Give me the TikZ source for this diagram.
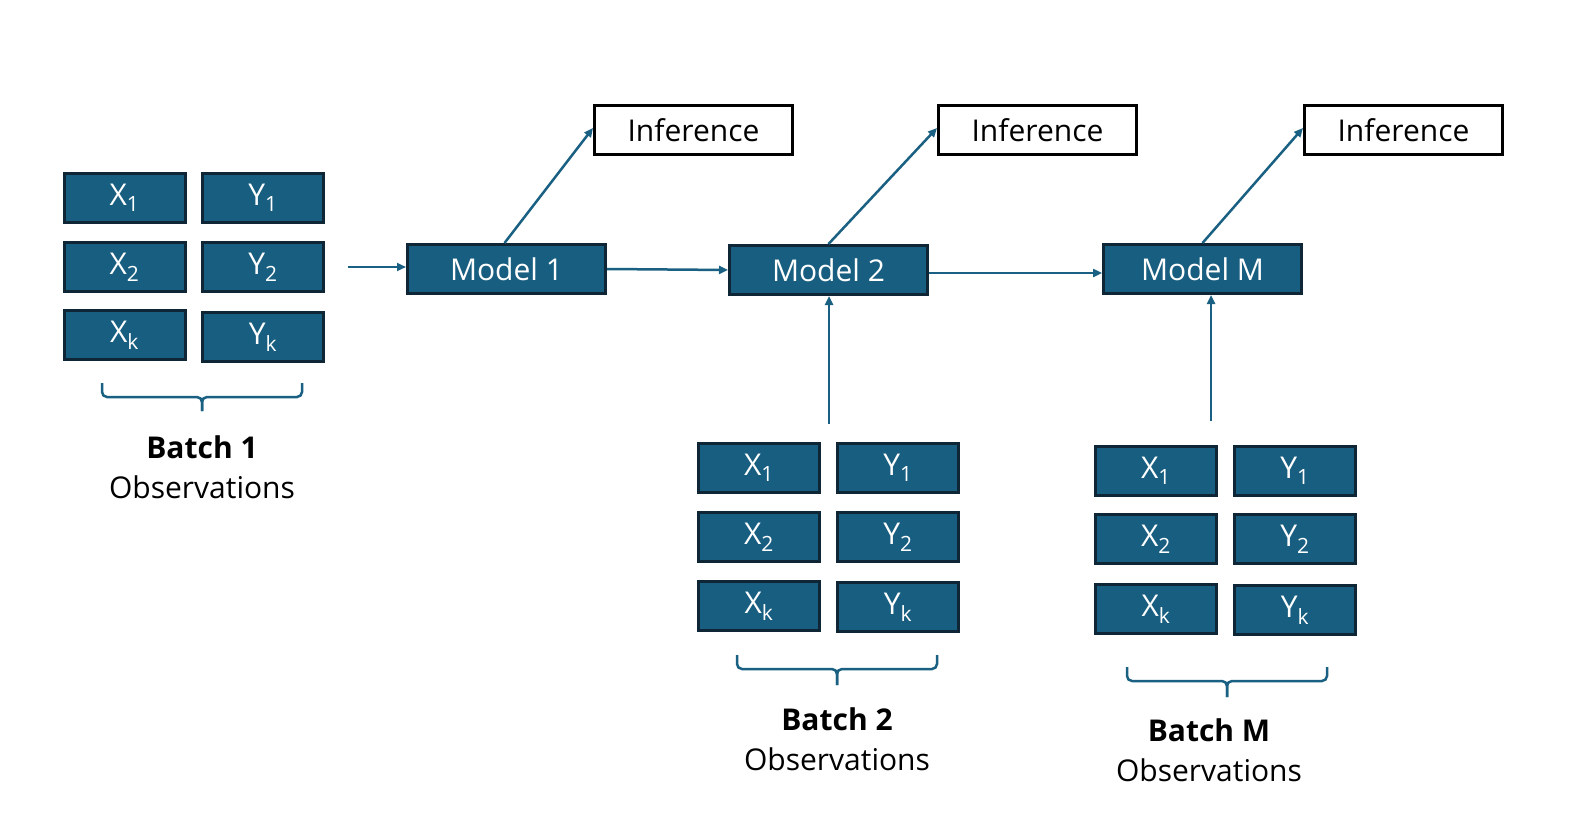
\documentclass[tikz,border=0pt]{standalone}
\usepackage{fontspec}
\setmainfont{Open Sans}
\usetikzlibrary{arrows.meta}
\definecolor{boxfill}{RGB}{24,94,128}
\definecolor{boxedge}{RGB}{14,38,54}
\definecolor{arrowc}{RGB}{26,96,130}
\tikzset{
  cell/.style={draw=boxedge,fill=boxfill,line width=3pt,minimum width=121pt,minimum height=49pt,inner sep=0pt,text=white,font=\fontsize{30}{35}\selectfont},
  modelbox/.style={draw=boxedge,fill=boxfill,line width=3pt,minimum width=198pt,minimum height=49pt,inner sep=0pt,text=white,font=\fontsize{30}{35}\selectfont},
  infbox/.style={draw=black,fill=white,line width=3pt,minimum width=198pt,minimum height=49pt,inner sep=0pt,text=black,font=\fontsize{30}{35}\selectfont},
  conn/.style={draw=arrowc,line width=2.5pt,-{Triangle[length=9pt,width=8pt]}},
  bracec/.style={draw=arrowc,line width=2.5pt,rounded corners=5pt},
  lbl/.style={inner sep=0pt,font=\fontsize{30}{35}\selectfont},
}
\newcommand{\sbx}[1]{\textsubscript{#1}}
\begin{document}
\begin{tikzpicture}[x=1pt,y=-1pt]
\fill[white] (0,0) rectangle (1585,829);
\useasboundingbox (0,0) rectangle (1585,829);
% Batch 1
\node[cell] (ax1) at (124.5,198) {X\sbx{1}};
\node[cell] (ay1) at (263,198) {Y\sbx{1}};
\node[cell] (ax2) at (124.5,267) {X\sbx{2}};
\node[cell] (ay2) at (263,267) {Y\sbx{2}};
\node[cell] (axk) at (124.5,335) {X\sbx{k}};
\node[cell] (ayk) at (263,337) {Y\sbx{k}};
% Batch 2
\node[cell] (bx1) at (759,468) {X\sbx{1}};
\node[cell] (by1) at (898,468) {Y\sbx{1}};
\node[cell] (bx2) at (759,537) {X\sbx{2}};
\node[cell] (by2) at (898,537) {Y\sbx{2}};
\node[cell] (bxk) at (759,606) {X\sbx{k}};
\node[cell] (byk) at (898,607) {Y\sbx{k}};
% Batch M
\node[cell] (cx1) at (1156,471) {X\sbx{1}};
\node[cell] (cy1) at (1295,471) {Y\sbx{1}};
\node[cell] (cx2) at (1156,539) {X\sbx{2}};
\node[cell] (cy2) at (1295,539) {Y\sbx{2}};
\node[cell] (cxk) at (1156,609) {X\sbx{k}};
\node[cell] (cyk) at (1295,610) {Y\sbx{k}};
% Models
\node[modelbox] (m1) at (506.5,269) {Model 1};
\node[modelbox] (m2) at (828.5,270) {Model 2};
\node[modelbox] (mM) at (1202.5,269) {Model M};
% Inference
\node[infbox] (i1) at (693.5,130) {Inference};
\node[infbox] (i2) at (1037.5,130) {Inference};
\node[infbox] (iM) at (1403.5,130) {Inference};
% connectors
\coordinate (in1) at (348,267);
\coordinate (b2top) at (829,424);
\coordinate (bMtop) at (1211,421);
\draw[conn] (in1) -- (in1 -| m1.west);
\draw[conn] (m1.east) -- (m2.west);
\draw[conn] ([yshift=-3pt]m2.east) -- ([yshift=-3pt]m2.east -| mM.west);
\draw[conn] ([xshift=-2pt]m1.north) -- ([yshift=2pt]i1.west);
\draw[conn] (m2.north) -- ([yshift=2pt]i2.west);
\draw[conn] (mM.north) -- ([yshift=2pt]iM.west);
\draw[conn] (b2top) -- (b2top |- m2.south);
\draw[conn] (bMtop) -- (bMtop |- mM.south);
% braces
\draw[bracec] (102,383) -- (102,397) -- (202,397) -- (202,411);
\draw[bracec] (202,411) -- (202,397) -- (302,397) -- (302,383);
\draw[bracec] (737,655) -- (737,669) -- (837,669) -- (837,685);
\draw[bracec] (837,685) -- (837,669) -- (937,669) -- (937,655);
\draw[bracec] (1127,667) -- (1127,681) -- (1227,681) -- (1227,697);
\draw[bracec] (1227,697) -- (1227,681) -- (1327,681) -- (1327,667);
% labels
\node[lbl,font=\fontsize{30}{35}\selectfont\bfseries] (t1a) at (202,447) {Batch 1};
\node[lbl] (t1b) at (202,487) {Observations};
\node[lbl,font=\fontsize{30}{35}\selectfont\bfseries] (t2a) at (837,719) {Batch 2};
\node[lbl] (t2b) at (837,759) {Observations};
\node[lbl,font=\fontsize{30}{35}\selectfont\bfseries] (t3a) at (1209,730) {Batch M};
\node[lbl] (t3b) at (1209,770) {Observations};
\end{tikzpicture}
\end{document}
